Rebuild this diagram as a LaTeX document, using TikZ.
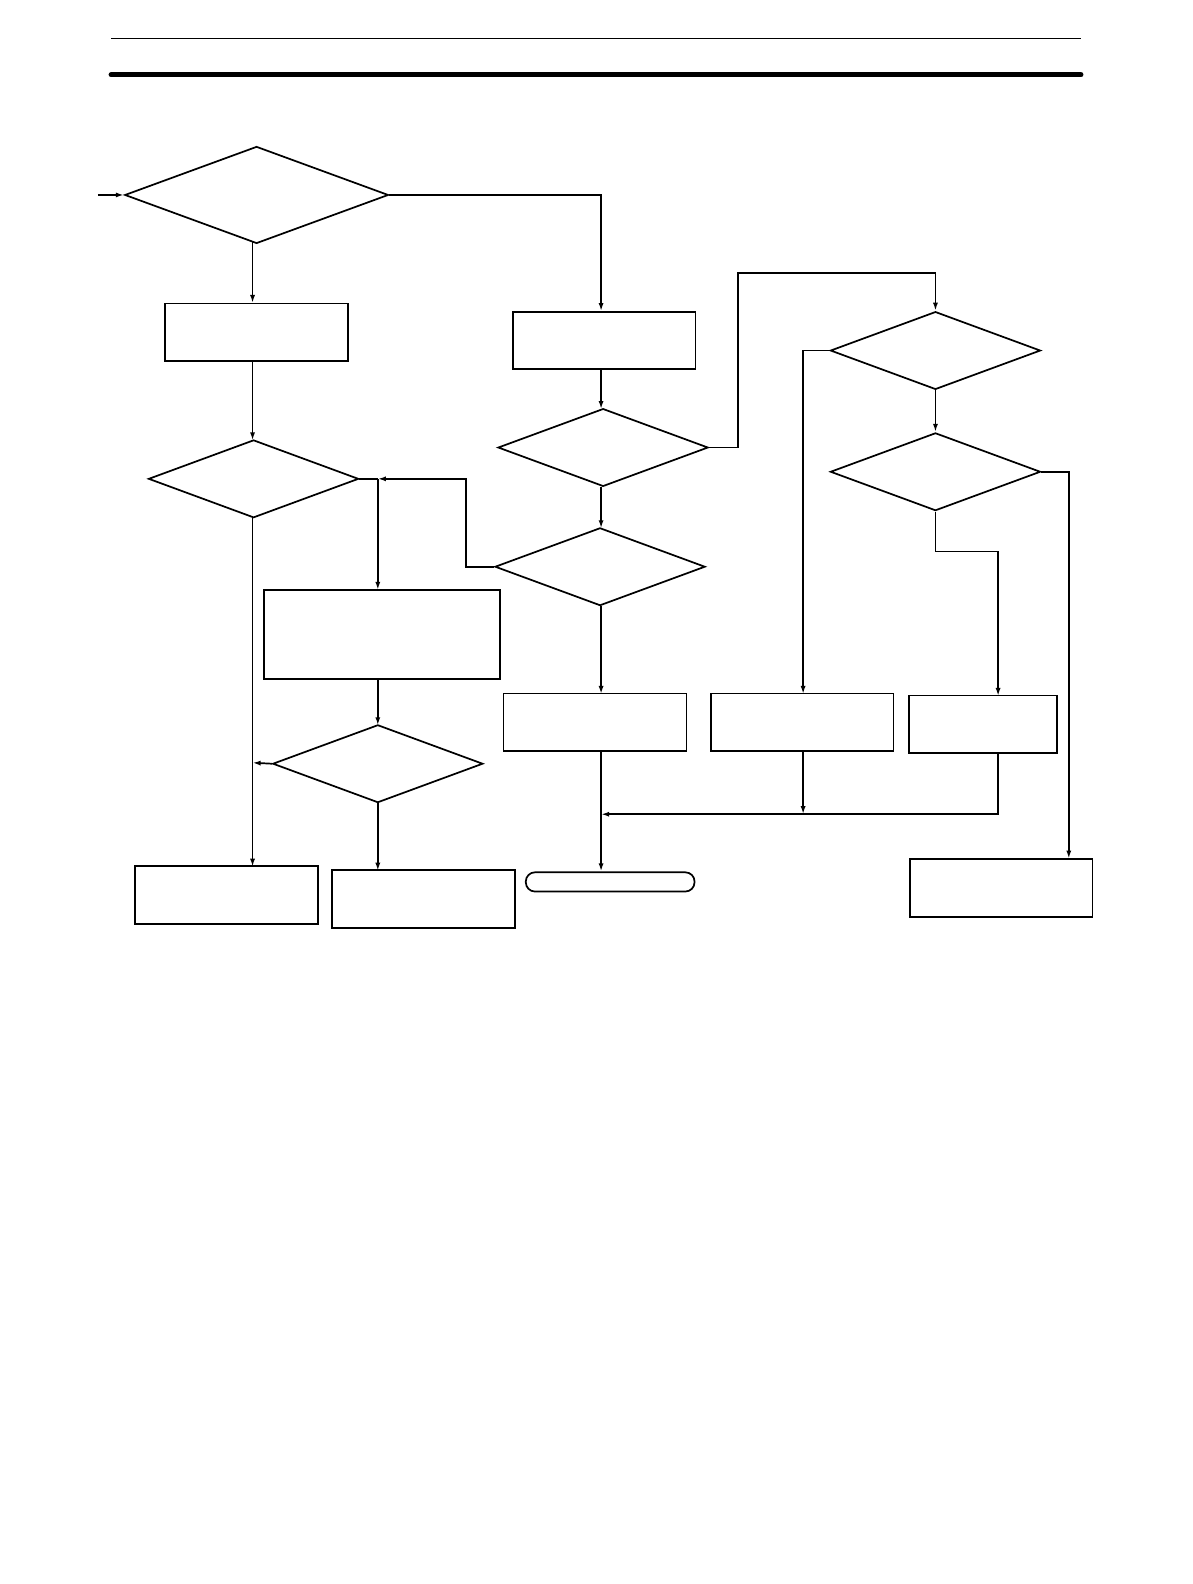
\documentclass[tikz,border=0pt]{standalone}
\usepackage{tikz}
\usetikzlibrary{shapes.geometric,arrows.meta,calc}

\tikzset{
  decision/.style={draw, diamond, inner sep=0pt, minimum width=208pt, minimum height=77pt},
  process/.style={draw, rectangle, inner sep=0pt, minimum width=181pt, minimum height=57pt},
  terminal/.style={draw, rectangle, rounded corners=9pt, inner sep=0pt, minimum width=167pt, minimum height=19pt},
  flow/.style={-{Latex[length=8pt,width=5pt]}}
}

\begin{document}
\begin{tikzpicture}[x=1pt, y=-1pt, line width=1.7pt]
  \useasboundingbox (0,0) rectangle (1180,1568);
  % page rules
  \draw[line width=1.5pt] (110,38) -- (1070,38);
  \draw[line width=5pt, line cap=round] (110,74) -- (1070,74);

  % decisions
  \node[decision, minimum width=261pt, minimum height=96pt] (chk1) at (254,193) {};
  \node[decision] (chk2) at (251,474) {};
  \node[decision] (chk3) at (597,443) {};
  \node[decision] (chk4) at (374,756) {};
  \node[decision] (chk5) at (594,561) {};
  \node[decision] (chk6) at (926,347) {};
  \node[decision] (chk7) at (926,467) {};

  % processes
  \node[process] (prc1) at (254,329) {};
  \node[process] (prc2) at (598,337) {};
  \node[process, minimum width=234pt, minimum height=88pt] (prc3) at (378,628) {};
  \node[process] (prc5) at (224,886) {};
  \node[process] (prc6) at (419,890) {};
  \node[process] (prc7) at (589,715) {};
  \node[process] (prc8) at (794,715) {};
  \node[process, minimum width=146pt] (prc9) at (973,717) {};
  \node[process] (prc10) at (991,879) {};
  \node[terminal] (stop) at (604,873) {};

  % junctions
  \coordinate (entry) at (97,193);
  \coordinate (j1) at (374,474);
  \coordinate (j2) at (250,755);
  \coordinate (j3) at (595,806);
  \coordinate (j4) at (795,806);
  \coordinate (top) at (926,270);

  % connectors
  \draw[flow] (entry) -- (chk1.west);
  \draw[flow] (250,240) -- (250,300);
  \draw[flow] (chk1.east) -| (595,308);
  \draw[flow] (250,358) -- (250,436);
  \draw[flow] (250,513) -- (250,858);
  \draw (chk2.east) -- (j1);
  \draw[flow] (j1) -- (374,584);
  \draw[flow] (chk5.west) -- ++(-28,0) |- (j1);
  \draw[flow] (374,672) -- (374,718);
  \draw[flow] (chk4.west) -- (j2);
  \draw[flow] (374,794) -- (374,862);
  \draw[flow] (595,366) -- (595,405);
  \draw[flow] (chk3.east) -- ++(29,0) |- (top) -- (chk6.north);
  \draw[flow] (595,482) -- (595,523);
  \draw[flow] (595,600) -- (595,687);
  \draw[flow] (595,744) -- (stop.north -| j3);
  \draw[flow] (chk6.west) -| (795,687);
  \draw[flow] (chk6.south) -- (chk7.north);
  \draw[flow] (chk7.east) -| (1058,850);
  \draw[flow] (chk7.south) |- (988,546) -- (988,689);
  \draw[flow] (795,744) -- (j4);
  \draw[flow] (988,746) |- (j3);
\end{tikzpicture}
\end{document}
